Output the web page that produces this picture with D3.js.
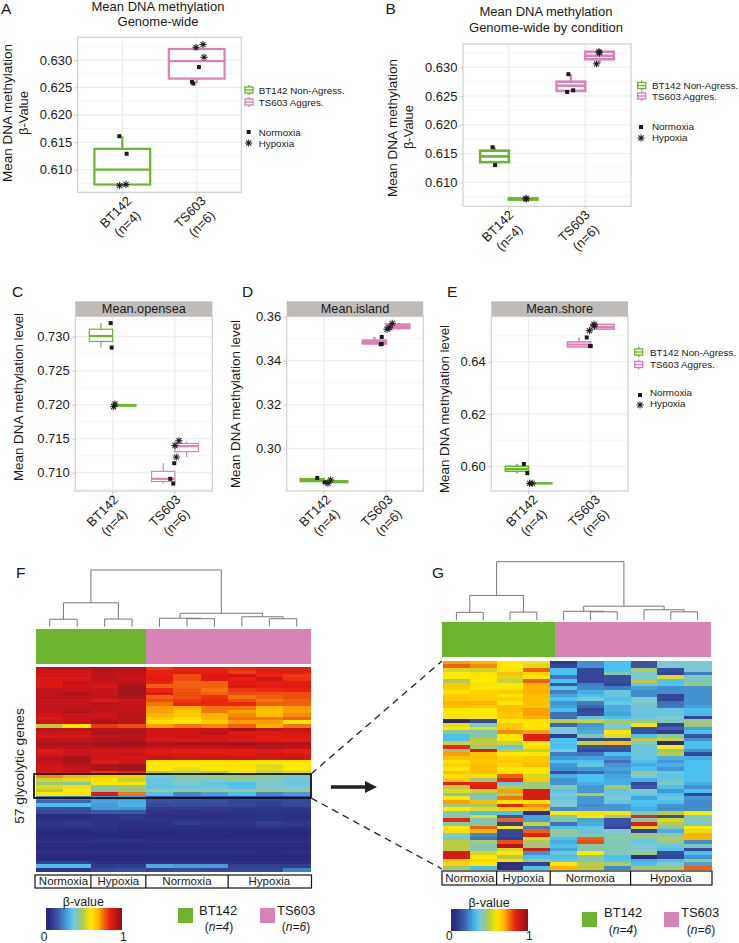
<!DOCTYPE html>
<html><head><meta charset="utf-8">
<script src="https://cdn.jsdelivr.net/npm/d3@7"></script>
<style>html,body{margin:0;background:#fff}svg{display:block}text{font-family:"Liberation Sans",Arial,sans-serif;fill:#1a1a1a}</style>
</head><body><svg id="c" width="739" height="943"></svg>
<script>
const groups = [["BT142","(n=4)"],["TS603","(n=6)"]];
const seriesNames = ["BT142 Non-Agress.","TS603 Aggres."];
const conditions = ["Normoxia","Hypoxia"];
// [centre, low, q1, median, q3, high, series (0/1), dodged]
const boxesA = [[1,.6072,.6073,.6100,.6138,.6161,0,0],[2,.6257,.6266,.6298,.6320,.6320,1,0]];
const boxesB = [[.8125,.6130,.6135,.6145,.6155,.6161,0,1],[1.1875,.6071,.6070,.6071,.6072,.6072,0,1],[1.8125,.6257,.6259,.6268,.6275,.6288,1,1],[2.1875,.6307,.6314,.6320,.6327,.6328,1,1]];
const boxesC = [[.8125,.7284,.7293,.7301,.7311,.7320,0,1],[1.1875,.7198,.7198,.7199,.7200,.7200,0,1],[1.8125,.7084,.7087,.7091,.7102,.7114,1,1],[2.1875,.7123,.7131,.7139,.7143,.7146,1,1]];
const boxesD = [[.8125,.2851,.2853,.2857,.2862,.2866,0,1],[1.1875,.2846,.2848,.2850,.2852,.2858,0,1],[1.8125,.3475,.3478,.3484,.3492,.3508,1,1],[2.1875,.3543,.3548,.3556,.3565,.3570,1,1]];
const boxesE = [[.8125,.5973,.5981,.5990,.6000,.6010,0,1],[1.1875,.5934,.5934,.5935,.5936,.5936,0,1],[1.8125,.6457,.6457,.6466,.6476,.6493,1,1],[2.1875,.6520,.6525,.6533,.6543,.6546,1,1]];
// [x in category units, value, condition index]
const pointsA = [[.96,.6161,0],[1.058,.6129,0],[.964,.6071,1],[1.049,.6073,1],[2.03,.6287,0],[1.937,.6260,0],[1.955,.6257,0],[1.991,.6323,1],[2.085,.6328,1],[2.099,.6305,1]];
const pointsB = [[.787,.6161,0],[.82,.6130,0],[1.226,.6071,1],[1.226,.6072,1],[1.78,.6288,0],[1.764,.6257,0],[1.843,.6260,0],[2.179,.6327,1],[2.187,.6325,1],[2.148,.6306,1]];
const pointsC = [[.968,.7320,0],[.984,.7284,0],[1.037,.7201,1],[1.016,.7197,1],[1.925,.7091,0],[1.973,.7084,0],[1.989,.7114,0],[2.064,.7147,1],[2,.7140,1],[2.021,.7123,1]];
const pointsD = [[.892,.2867,0],[1.011,.2847,0],[1.064,.2843,1],[1.108,.2858,1],[1.931,.3508,0],[1.915,.3475,0],[1.931,.3476,0],[2.016,.3543,1],[2.06,.3550,1],[2.10,.3570,1]];
const pointsE = [[.924,.6009,0],[.979,.5974,0],[1.016,.5935,1],[1.06,.5935,1],[1.936,.6493,0],[1.989,.6460,0],[2,.6460,0],[1.979,.6519,1],[2.053,.6543,1],[2.06,.6537,1]];
const ticksA = [.610,.615,.620,.625,.630];
const ticksC = [.710,.715,.720,.725,.730];
const ticksD = [.30,.32,.34,.36];
const ticksE = [.60,.62,.64];

const heatF = [
[94,94,96,95,82,85,85,84,87,86],[90,90,94,94,85,85,85,82,87,86],[90,90,94,92,85,80,88,90,84,82],[88,88,94,92,87,80,87,85,90,83],
[88,92,92,94,84,78,78,87,86,86],[88,91,90,96,78,78,78,88,86,87],[93,92,92,97,84,79,76,82,84,85],[94,95,93,97,88,80,78,80,80,80],
[94,94,93,96,78,80,83,76,78,80],[92,92,88,91,80,82,84,80,76,78],[93,93,94,93,76,84,84,84,78,78],[94,94,94,92,72,70,76,76,68,72],
[93,96,93,93,72,66,76,72,68,72],[91,92,91,94,70,66,70,74,68,74],[88,93,93,94,66,62,70,76,76,78],[91,91,96,94,62,60,65,72,72,60],
[50,60,82,80,72,76,74,78,70,76],[94,94,95,95,91,90,92,96,94,92],[92,91,96,96,91,91,94,88,88,90],[89,90,92,94,91,91,90,89,87,88],
[93,93,95,95,89,89,90,88,86,86],[96,96,98,98,95,96,96,97,95,95],[94,94,94,94,92,92,92,92,95,93],[88,92,90,90,88,86,86,86,88,86],
[90,92,90,92,89,89,88,87,90,88],[94,96,90,90,92,90,90,90,90,90],[93,96,88,90,60,60,60,61,60,60],[91,94,96,98,60,60,58,61,55,60],
[90,92,96,98,60,56,60,60,56,60],[88,90,82,84,50,52,50,58,52,54],[74,70,66,66,40,44,46,46,44,42],[52,55,60,52,36,42,40,44,40,37],
[46,44,61,60,36,38,35,33,38,36],[55,58,44,46,35,36,37,34,40,38],[50,60,42,42,46,46,46,46,46,46],[60,60,88,76,34,24,28,33,24,27],
[24,22,26,26,14,15,14,13,12,13],[18,18,28,30,15,14,14,11,11,12],[33,33,27,31,13,14,13,12,10,12],[15,15,26,26,9,10,9,8,8,8],
[12,13,16,16,7,7,7,7,7,7],[5,5,7,8,6,6,6,6,7,6],[6,6,7,8,7,7,6,6,7,6],[7,9,7,6,6,9,8,7,10,8],
[7,7,7,6,6,6,6,6,8,7],[5,5,6,5,5,5,5,5,5,5],[4,4,5,5,4,5,5,4,4,4],[5,5,5,4,5,5,5,5,5,5],
[6,6,7,7,6,6,6,6,6,6],[5,5,5,5,5,5,5,5,5,5],[4,4,5,5,5,4,4,4,4,4],[6,6,6,6,6,6,6,6,5,6],
[5,5,5,5,5,5,5,5,5,5],[4,4,4,4,4,4,4,4,4,4],[10,10,6,6,7,7,7,6,6,6],[33,33,9,9,30,27,27,10,10,10],
[8,8,12,14,12,14,12,12,12,22]];
const heatG = [
[72,70,60,62,8,25,33,15,38,38],[78,74,60,55,12,25,33,15,38,38],[54,52,58,78,33,12,33,48,14,38],[60,61,68,64,33,12,42,38,12,22],
[60,60,54,60,20,12,14,38,55,40],[48,60,52,78,33,12,14,50,34,42],[66,62,60,70,15,22,12,36,34,46],[66,60,60,70,35,24,22,28,25,25],
[60,64,66,70,22,30,36,24,25,25],[66,66,60,68,28,33,36,25,12,25],[66,64,64,68,33,38,33,38,12,25],[70,70,60,68,26,22,36,40,20,25],
[68,66,68,66,28,18,30,36,22,28],[60,60,68,72,33,12,30,36,36,33],[60,60,66,72,20,14,28,36,36,32],[60,60,66,70,20,35,33,36,38,12],
[4,12,60,60,50,52,48,46,42,46],[56,42,66,60,18,26,38,58,12,46],[60,56,66,62,38,28,38,15,18,28],[44,42,74,72,38,30,60,14,10,33],
[33,42,60,86,10,42,56,33,42,15],[33,50,60,86,33,12,12,50,52,25],[52,50,52,60,33,52,68,40,4,33],[84,46,36,62,33,15,14,36,60,33],
[44,88,50,52,38,12,14,36,44,25],[72,66,60,60,22,20,33,36,50,12],[68,68,64,66,26,28,26,36,30,30],[60,66,66,66,33,33,20,33,26,33],
[64,68,64,68,26,36,26,30,30,33],[60,68,60,60,25,26,28,33,26,33],[68,68,62,60,14,18,25,46,36,33],[62,62,78,54,30,33,28,38,35,33],
[66,46,84,66,25,33,30,30,36,33],[86,84,36,46,26,30,30,12,40,30],[50,86,50,46,42,26,46,16,33,25],[55,52,72,88,35,26,36,38,26,33],
[42,42,48,88,38,50,36,36,33,12],[60,38,76,88,36,26,38,28,36,26],[72,68,60,60,38,26,36,33,33,24],[46,48,84,74,38,24,26,33,26,24],
[60,56,64,68,24,26,26,30,25,24],[40,33,33,6,60,62,58,42,50,60],[42,56,15,28,42,60,48,84,14,38],[84,42,78,28,42,28,15,42,54,40],
[42,42,10,52,20,30,15,86,50,40],[60,78,60,22,33,36,12,54,40,60],[62,70,12,78,46,36,38,10,30,56],[38,24,12,86,40,42,42,46,44,70],
[42,20,10,54,33,78,44,42,48,70],[50,48,80,48,30,80,40,36,46,25],[50,42,94,46,33,42,42,38,36,40],[50,42,54,88,28,42,42,38,34,12],
[88,54,60,25,36,60,40,46,14,33],[88,60,50,33,33,42,33,6,12,26],[52,64,62,46,36,42,34,30,33,46],[64,60,6,10,60,50,48,33,38,28],
[46,33,6,33,70,50,24,46,46,78]];
// merge heights of the dendrogram; leaves are column indices
const dendro = {h:57,c:[{h:24,c:[{h:7.5,c:[0,1]},{h:7.7,c:[2,3]}]},{h:13.5,c:[{h:8.5,c:[4,{h:8,c:[5,6]}]},{h:10,c:[7,{h:8,c:[8,9]}]}]}]};
const sectionF = [["Normoxia",2],["Hypoxia",2],["Normoxia",3],["Hypoxia",3]];
const colorStops = [0,5,15,25,33,38,43,50,60,70,78,85,92,100];
const colorValues = ["#28287a","#2a2b7e","#3a53a4","#4390d0","#4cc0ee","#7cc8d4","#84c8a8","#bccb40","#ffe800","#ffb400","#f06010","#e81e10","#c81418","#90141a"];

const GREEN="#6eb52f", PINK="#d783b6", MARK="#1c1c1c";
const svg=d3.select("#c");
const colour=d3.scaleLinear().domain(colorStops).range(colorValues);
const txt=(g,x,y,s,size,anchor)=>g.append("text").attr("x",x).attr("y",y).attr("font-size",size).attr("text-anchor",anchor||"start").text(s);
const rot=(x,y,s,size)=>svg.append("text").attr("transform",`translate(${x},${y}) rotate(-90)`).attr("text-anchor","middle").attr("font-size",size).text(s);

[["A",1,14],["B",385.5,14],["C",12,297],["D",242,297],["E",447,297],["F",16,578],["G",432,578]].forEach(d=>txt(svg,d[1],d[2],d[0],15.5));

function marker(g,x,y,cond){
  if(cond===0) g.append("rect").attr("x",x-2).attr("y",y-2).attr("width",4).attr("height",4).attr("fill",MARK);
  else{
    [0,45,90,135].forEach(a=>g.append("line").attr("transform",`translate(${x},${y}) rotate(${a})`).attr("x1",-3.6).attr("x2",3.6).attr("stroke",MARK).attr("stroke-width",1));
    g.append("circle").attr("cx",x).attr("cy",y).attr("r",1.4).attr("fill",MARK);
  }
}
function boxPanel(o){
  const g=svg.append("g");
  const x=d3.scaleLinear().domain([.4,2.6]).range([o.l,o.r]);
  const y=d3.scaleLinear().domain(o.dom).range([o.b,o.t]);
  const step=o.ticks[1]-o.ticks[0];
  const minor=d3.range(o.ticks[0]-step/2,o.dom[1],step).filter(v=>v>o.dom[0]);
  g.append("rect").attr("x",o.l).attr("y",o.t).attr("width",o.r-o.l).attr("height",o.b-o.t).attr("fill","#fff");
  g.selectAll(".mi").data(minor).join("line").attr("x1",o.l).attr("x2",o.r).attr("y1",y).attr("y2",y).attr("stroke","#f3f3f3").attr("stroke-width",.8);
  g.selectAll(".ma").data(o.ticks).join("line").attr("x1",o.l).attr("x2",o.r).attr("y1",y).attr("y2",y).attr("stroke","#ececec").attr("stroke-width",1.1);
  g.selectAll(".mv").data([1,2]).join("line").attr("x1",x).attr("x2",x).attr("y1",o.t).attr("y2",o.b).attr("stroke","#ececec").attr("stroke-width",1.1);
  o.boxes.forEach(b=>{
    const [c,lo,q1,med,q3,hi,s,dodged]=b;
    const w=dodged?.375:.75, col=s?PINK:GREEN;
    const bg=g.append("g").attr("stroke",col).attr("stroke-width",o.sw).attr("fill","none");
    bg.append("line").attr("x1",x(c)).attr("x2",x(c)).attr("y1",y(lo)).attr("y2",y(hi));
    bg.append("rect").attr("x",x(c-w/2)).attr("width",x(c+w/2)-x(c-w/2)).attr("y",y(q3)).attr("height",Math.max(0,y(q1)-y(q3))).attr("fill","#fff");
    bg.append("line").attr("x1",x(c-w/2)).attr("x2",x(c+w/2)).attr("y1",y(med)).attr("y2",y(med)).attr("stroke-width",o.mw||o.sw);
  });
  o.points.forEach(p=>marker(g,x(p[0]),y(p[1]),p[2]));
  g.append("rect").attr("x",o.l).attr("y",o.t).attr("width",o.r-o.l).attr("height",o.b-o.t).attr("fill","none").attr("stroke","#cfcfcf").attr("stroke-width",1.2);
  if(o.strip){
    g.append("rect").attr("x",o.l).attr("y",o.t-15).attr("width",o.r-o.l).attr("height",15).attr("fill","#bfbbb8");
    txt(g,(o.l+o.r)/2,o.t-3.6,o.strip,12.7,"middle");
  }
  const ax=d3.axisLeft(y).tickValues(o.ticks).tickFormat(d3.format(o.fmt)).tickSize(3).tickPadding(2.5);
  const ag=g.append("g").attr("transform",`translate(${o.l},0)`).call(ax);
  ag.select(".domain").remove();
  ag.selectAll("line").attr("stroke","#c8c8c8");
  ag.selectAll("text").attr("font-size",13).attr("font-family",'"Liberation Sans"').attr("fill","#1a1a1a");
  groups.forEach((gr,i)=>{
    const tx=x(i+1);
    g.append("line").attr("x1",tx).attr("x2",tx).attr("y1",o.b).attr("y2",o.b+3).attr("stroke","#c8c8c8");
    const t=g.append("text").attr("transform",`translate(${tx+o.tdx},${o.b+23}) rotate(-45)`).attr("text-anchor","middle").attr("font-size",13);
    t.append("tspan").attr("x",0).text(gr[0]);
    t.append("tspan").attr("x",0).attr("dy",16.5).text(gr[1]);
  });
}
const fmt3=".3f",fmt2=".2f";
boxPanel({l:77.7,r:241.3,t:37.3,b:192.3,dom:[.60588,.63413],ticks:ticksA,fmt:fmt3,boxes:boxesA,points:pointsA,sw:2.2,tdx:-3.5});
boxPanel({l:463,r:631,t:44,b:206.3,dom:[.60583,.63405],ticks:ticksA,fmt:fmt3,boxes:boxesB,points:pointsB,sw:2.6,tdx:-8});
boxPanel({l:75.3,r:212.3,t:316.3,b:491,dom:[.70731,.733],ticks:ticksC,fmt:fmt3,boxes:boxesC,points:pointsC,sw:1.2,mw:2.2,tdx:-7,strip:"Mean.opensea"});
boxPanel({l:286.7,r:423.3,t:316.3,b:491,dom:[.28077,.3602],ticks:ticksD,fmt:fmt2,boxes:boxesD,points:pointsD,sw:2.4,tdx:-6,strip:"Mean.island"});
boxPanel({l:491.3,r:628,t:316.3,b:491,dom:[.59055,.6574],ticks:ticksE,fmt:fmt2,boxes:boxesE,points:pointsE,sw:1.6,mw:2.2,tdx:-3.5,strip:"Mean.shore"});

txt(svg,158,11,"Mean DNA methylation",13,"middle");txt(svg,158,26,"Genome-wide",13,"middle");
txt(svg,546,16,"Mean DNA methylation",13,"middle");txt(svg,546,31.7,"Genome-wide by condition",13,"middle");
rot(12,113,"Mean DNA methylation",13.5);rot(27.5,113,"β-Value",13);
rot(396.5,128,"Mean DNA methylation",13.5);rot(413,127,"β-Value",13);
rot(22.5,397,"Mean DNA methylation level",13.4);rot(240,404,"Mean DNA methylation level",13.4);rot(449,409,"Mean DNA methylation level",13.4);

function legend(sx,tx,y1,y2,mx,cy1,cy2,my1,my2){
  [[y1,GREEN,0],[y2,PINK,1]].forEach(d=>{
    const g=svg.append("g").attr("stroke",d[1]).attr("stroke-width",1.4).attr("fill","#fff");
    g.append("line").attr("x1",sx+4).attr("x2",sx+4).attr("y1",d[0]-5).attr("y2",d[0]+5);
    g.append("rect").attr("x",sx).attr("y",d[0]-3).attr("width",8).attr("height",6);
    g.append("line").attr("x1",sx).attr("x2",sx+8).attr("y1",d[0]).attr("y2",d[0]);
    txt(svg,tx,d[0]+3.6,seriesNames[d[2]],9.8);
  });
  txt(svg,tx,cy1,conditions[0],9.8);txt(svg,tx,cy2,conditions[1],9.8);
  marker(svg,mx,my1,0);marker(svg,mx,my2,1);
}
legend(245,258.7,90,102,248.7,136,146.7,132,143);
legend(637.7,652,85.5,96,641,130,141,127,138);
legend(634.7,650,352,364.5,640,396.3,407.3,395,405);

function heatmap(o){
  const cols=d3.range(10), rows=d3.range(o.data.length);
  const x=d3.scaleBand().domain(cols).range([o.l,o.r]);
  const y=d3.scaleBand().domain(rows).range([o.t,o.b]);
  const g=svg.append("g").attr("shape-rendering","crispEdges");
  o.data.forEach((row,r)=>row.forEach((v,c)=>g.append("rect").attr("x",x(c)).attr("y",y(r)).attr("width",x.bandwidth()+.5).attr("height",y.bandwidth()+.5).attr("fill",colour(v))));
  g.append("rect").attr("x",o.al).attr("y",o.at).attr("width",o.split-o.al).attr("height",o.ab-o.at).attr("fill",GREEN);
  g.append("rect").attr("x",o.split).attr("y",o.at).attr("width",o.r-o.split).attr("height",o.ab-o.at).attr("fill",PINK);
  const h=d3.scaleLinear().domain([0,57]).range([o.db,o.dt]);
  const dg=svg.append("g").attr("fill","none").attr("stroke","#777").attr("stroke-width",1);
  const walk=n=>{
    if(typeof n==="number") return {x:x(n)+x.bandwidth()/2,y:o.db};
    const kids=n.c.map(walk), yy=h(n.h);
    kids.forEach(k=>dg.append("path").attr("d",`M${k.x},${k.y}V${yy}`));
    dg.append("path").attr("d",`M${kids[0].x},${yy}H${kids[1].x}`);
    return {x:(kids[0].x+kids[1].x)/2,y:yy};
  };
  walk(dendro);
  const bg=svg.append("g");
  bg.append("rect").attr("x",o.l-1).attr("y",o.st).attr("width",o.r-o.l+2).attr("height",o.sb-o.st).attr("fill","#fff").attr("stroke","#111").attr("stroke-width",1.2);
  let acc=0;
  sectionF.forEach((s,i)=>{
    const a=x(acc), b=acc+s[1]>=10?o.r:x(acc+s[1]);
    if(i) bg.append("line").attr("x1",a).attr("x2",a).attr("y1",o.st).attr("y2",o.sb).attr("stroke","#111").attr("stroke-width",1.2);
    txt(bg,(a+b)/2,o.sb-3.2,s[0],11.5,"middle");
    acc+=s[1];
  });
  const cb=svg.append("g").attr("shape-rendering","crispEdges");
  const cx=d3.scaleLinear().domain([0,100]).range([o.cl,o.cr]);
  d3.range(0,100).forEach(v=>cb.append("rect").attr("x",cx(v)).attr("y",o.ct).attr("width",cx(1)-cx(0)+.5).attr("height",o.cbh).attr("fill",colour(v+.5)));
  txt(svg,(o.cl+o.cr)/2,o.ct-2,"β-value",12.5,"middle");
  txt(svg,o.cl-5,o.lab0,"0",12);txt(svg,o.cr-1,o.lab0,"1",12);
  [[o.k1,GREEN],[o.k2,PINK]].forEach(k=>svg.append("rect").attr("x",k[0]).attr("y",o.ky).attr("width",15).attr("height",15).attr("fill",k[1]));
  txt(svg,o.kt1,o.kb,"BT142",13);txt(svg,o.kt2,o.kb,"TS603",13);
  [[o.kc1,"n=4"],[o.kc2,"n=6"]].forEach(k=>{
    const t=txt(svg,k[0],o.kb+16.5,"",12,"middle");
    t.append("tspan").text("(");t.append("tspan").attr("font-style","italic").text(k[1]);t.append("tspan").text(")");
  });
}
heatmap({data:heatF,l:36,r:310.5,t:666.5,b:871.5,al:36,split:146,at:629,ab:664,db:626.7,dt:570,st:875,sb:888,cl:45.7,cr:121,ct:908,cbh:22,lab0:941,k1:178,k2:260,kt1:199,kt2:277,kb:914.5,ky:908,kc1:219,kc2:296});
heatmap({data:heatG,l:443,r:711,t:660.5,b:869.5,al:441.5,split:555,at:621.7,ab:656.7,db:620,dt:561.7,st:871,sb:885,cl:451,cr:527,ct:909,cbh:22,lab0:939.5,k1:582,k2:664,kt1:604,kt2:681,kb:917,ky:912,kc1:623,kc2:701});

rot(24,766,"57 glycolytic genes",13.7);
svg.append("rect").attr("x",34).attr("y",774).attr("width",277).attr("height",24).attr("fill","none").attr("stroke","#111").attr("stroke-width",1.8);
[[774,661],[798,869]].forEach(d=>svg.append("line").attr("x1",311).attr("y1",d[0]).attr("x2",442).attr("y2",d[1]).attr("stroke","#222").attr("stroke-width",1.3).attr("stroke-dasharray","7 5"));
svg.append("path").attr("d","M331,785.3H365V781L377,787L365,793V788.7H331Z").attr("fill","#222");
</script></body></html>
